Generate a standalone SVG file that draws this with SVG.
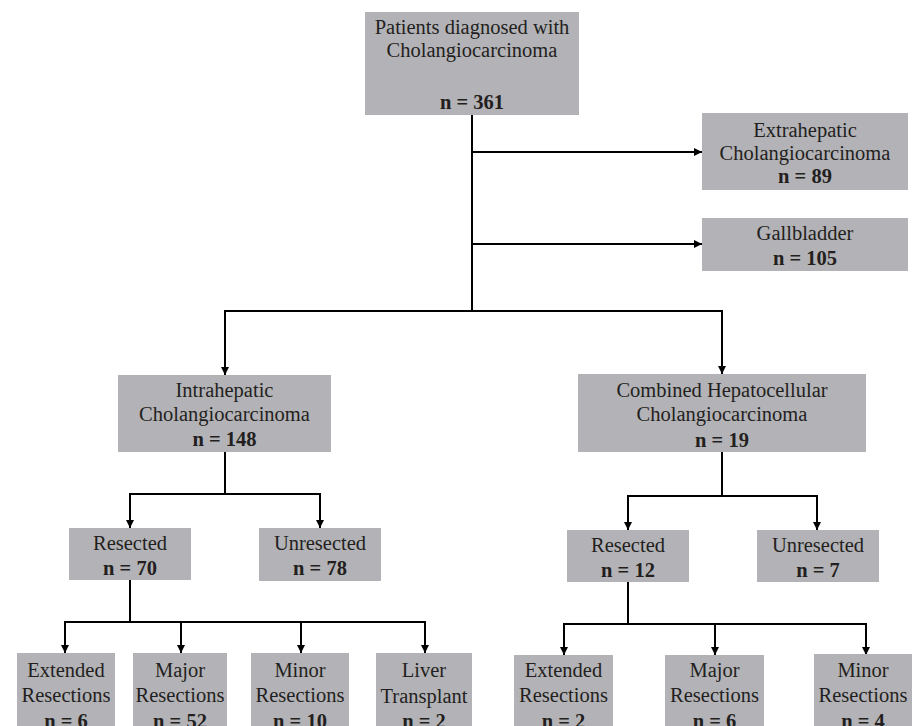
<svg xmlns="http://www.w3.org/2000/svg" width="912" height="726" viewBox="0 0 912 726">
<style>
.box{fill:#b3b3b7;}
text{font-family:"Liberation Serif","Times New Roman",serif;font-size:20.5px;fill:#231f20;text-anchor:middle;}
.b{font-weight:bold;}
.ln{fill:none;stroke:#000;stroke-width:2;}
</style>
<defs>
<marker id="ah" markerUnits="userSpaceOnUse" markerWidth="10" markerHeight="10" refX="9" refY="5" orient="auto">
<path d="M1,1 L9,5 L1,9 Z" fill="#000"/>
</marker>
</defs>
<rect width="912" height="726" fill="#fff"/>
<g id="connectors">
<path class="ln" d="M472,115 V311"/>
<path class="ln" d="M472,152 H702" marker-end="url(#ah)"/>
<path class="ln" d="M472,244 H702" marker-end="url(#ah)"/>
<path class="ln" d="M225,374 V311 H722 V374" marker-end="url(#ah)"/>
<path class="ln" d="M225,311 V375" marker-end="url(#ah)"/>
<path class="ln" d="M225,452 V494"/>
<path class="ln" d="M130,528 V494 H320 V528" marker-end="url(#ah)"/>
<path class="ln" d="M130,494 V528" marker-end="url(#ah)"/>
<path class="ln" d="M722,452 V496"/>
<path class="ln" d="M628,530 V496 H817 V530" marker-end="url(#ah)"/>
<path class="ln" d="M628,496 V530" marker-end="url(#ah)"/>
<path class="ln" d="M130,580 V622"/>
<path class="ln" d="M65,653 V622 H425 V653" marker-end="url(#ah)"/>
<path class="ln" d="M65,622 V653" marker-end="url(#ah)"/>
<path class="ln" d="M181,622 V653" marker-end="url(#ah)"/>
<path class="ln" d="M301,622 V653" marker-end="url(#ah)"/>
<path class="ln" d="M628,582 V624"/>
<path class="ln" d="M564,655 V624 H866 V655" marker-end="url(#ah)"/>
<path class="ln" d="M564,624 V655" marker-end="url(#ah)"/>
<path class="ln" d="M715,624 V655" marker-end="url(#ah)"/>
</g>
<g id="n-root">
<rect class="box" x="365" y="12" width="214" height="103"/>
<text x="472" y="34">Patients diagnosed with</text>
<text x="472" y="57">Cholangiocarcinoma</text>
<text x="472" y="109" class="b">n = 361</text>
</g>
<g id="n-extra">
<rect class="box" x="702" y="113" width="206" height="77"/>
<text x="805" y="137">Extrahepatic</text>
<text x="805" y="160">Cholangiocarcinoma</text>
<text x="805" y="183" class="b">n = 89</text>
</g>
<g id="n-gall">
<rect class="box" x="702" y="218" width="206" height="53"/>
<text x="805" y="240">Gallbladder</text>
<text x="805" y="265" class="b">n = 105</text>
</g>
<g id="n-intra">
<rect class="box" x="118" y="375" width="213" height="77"/>
<text x="224.5" y="397">Intrahepatic</text>
<text x="224.5" y="421">Cholangiocarcinoma</text>
<text x="224.5" y="446" class="b">n = 148</text>
</g>
<g id="n-comb">
<rect class="box" x="578" y="374" width="288" height="78"/>
<text x="722" y="397">Combined Hepatocellular</text>
<text x="722" y="421">Cholangiocarcinoma</text>
<text x="722" y="447" class="b">n = 19</text>
</g>
<g id="n-ires">
<rect class="box" x="69" y="528" width="122" height="52"/>
<text x="130" y="550">Resected</text>
<text x="130" y="575" class="b">n = 70</text>
</g>
<g id="n-iunres">
<rect class="box" x="259" y="528" width="122" height="53"/>
<text x="320" y="550">Unresected</text>
<text x="320" y="575" class="b">n = 78</text>
</g>
<g id="n-cres">
<rect class="box" x="567" y="530" width="122" height="52"/>
<text x="628" y="552">Resected</text>
<text x="628" y="577" class="b">n = 12</text>
</g>
<g id="n-cunres">
<rect class="box" x="757" y="530" width="122" height="52"/>
<text x="818" y="552">Unresected</text>
<text x="818" y="577" class="b">n = 7</text>
</g>
<g id="n-iext">
<rect class="box" x="17" y="653" width="98" height="73"/>
<text x="66" y="677">Extended</text>
<text x="66" y="702">Resections</text>
<text x="66" y="728" class="b">n = 6</text>
</g>
<g id="n-imaj">
<rect class="box" x="133" y="653" width="94" height="73"/>
<text x="180" y="677">Major</text>
<text x="180" y="702">Resections</text>
<text x="180" y="728" class="b">n = 52</text>
</g>
<g id="n-imin">
<rect class="box" x="251" y="653" width="98" height="73"/>
<text x="300" y="677">Minor</text>
<text x="300" y="702">Resections</text>
<text x="300" y="728" class="b">n = 10</text>
</g>
<g id="n-liver">
<rect class="box" x="376" y="653" width="96" height="73"/>
<text x="424" y="677">Liver</text>
<text x="424" y="703">Transplant</text>
<text x="424" y="728" class="b">n = 2</text>
</g>
<g id="n-cext">
<rect class="box" x="514" y="655" width="99" height="71"/>
<text x="563.5" y="677">Extended</text>
<text x="563.5" y="702">Resections</text>
<text x="563.5" y="728" class="b">n = 2</text>
</g>
<g id="n-cmaj">
<rect class="box" x="665" y="655" width="99" height="71"/>
<text x="714.5" y="677">Major</text>
<text x="714.5" y="702">Resections</text>
<text x="714.5" y="728" class="b">n = 6</text>
</g>
<g id="n-cmin">
<rect class="box" x="814" y="654" width="98" height="72"/>
<text x="863" y="677">Minor</text>
<text x="863" y="702">Resections</text>
<text x="863" y="728" class="b">n = 4</text>
</g>
</svg>
